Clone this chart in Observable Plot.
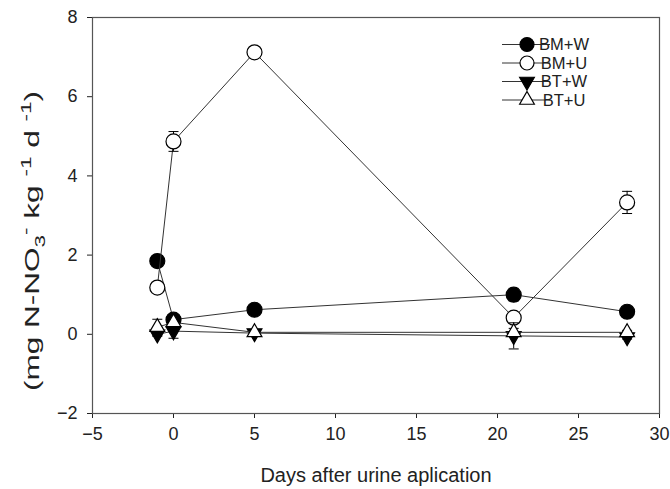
<!DOCTYPE html>
<html><head><meta charset="utf-8">
<script src="https://cdn.jsdelivr.net/npm/d3@7"></script>
<script src="https://cdn.jsdelivr.net/npm/@observablehq/plot@0.6"></script>
<style>body{margin:0;background:#fff}</style>
</head><body><div id="chart"></div>
<script>
const days = [-1, 0, 5, 21, 28];
const seriesNames = ["BM+W", "BM+U", "BT+W", "BT+U"];
const bmW = [1.85, 0.37, 0.62, 1.0, 0.57];
const bmU = [1.18, 4.87, 7.12, 0.42, 3.33];
const btW = [0.0, 0.08, 0.03, -0.04, -0.07];
const btU = [0.18, 0.3, 0.05, 0.05, 0.05];
const bmWErr = [0.05, 0.05, 0.05, 0.16, 0.05];
const bmUErr = [0.05, 0.25, 0.05, 0.1, 0.28];
const btWErr = [0.05, 0.18, 0.03, 0.33, 0.05];
const btUErr = [0.2, 0.05, 0.05, 0.1, 0.05];
const xTicks = [-5, 0, 5, 10, 15, 20, 25, 30];
const yTicks = [-2, 0, 2, 4, 6, 8];
const xLabel = "Days after urine aplication";

const triDown = {draw(context, size) {
  const y = -Math.sqrt(size / (3 * Math.sqrt(3)));
  context.moveTo(0, -y * 2);
  context.lineTo(-Math.sqrt(3) * y, y);
  context.lineTo(Math.sqrt(3) * y, y);
  context.closePath();
}};
const capSym = {draw(context, size) {
  context.moveTo(-5, 0); context.lineTo(5, 0);
}};

const values = [bmW, bmU, btW, btU];
const errs = [bmWErr, bmUErr, btWErr, btUErr];
const styles = [
  {symbol: "circle", fill: "black", r: 7.5},
  {symbol: "circle", fill: "white", r: 7.5},
  {symbol: triDown, fill: "black", r: 5.5},
  {symbol: "triangle", fill: "white", r: 5.5}
];
const d3types = [d3.symbolCircle, d3.symbolCircle, triDown, d3.symbolTriangle];

const marks = [];
seriesNames.forEach((name, i) => {
  const rows = days.map((d, j) => ({day: d, value: values[i][j], err: errs[i][j], series: name}));
  marks.push(Plot.line(rows, {x: "day", y: "value", stroke: "#333", strokeWidth: 1}));
  marks.push(Plot.ruleX(rows, {x: "day", y1: d => d.value - d.err, y2: d => d.value + d.err, stroke: "black", strokeWidth: 1}));
  marks.push(Plot.dot(rows, {x: "day", y: d => d.value + d.err, symbol: capSym, stroke: "black", strokeWidth: 1}));
  marks.push(Plot.dot(rows, {x: "day", y: d => d.value - d.err, symbol: capSym, stroke: "black", strokeWidth: 1}));
  marks.push(Plot.dot(rows, {x: "day", y: "value", symbol: styles[i].symbol, fill: styles[i].fill, stroke: "black", strokeWidth: 1.2, r: styles[i].r}));
});

const svg = Plot.plot({
  width: 670, height: 489,
  marginLeft: 92, marginRight: 11, marginTop: 17, marginBottom: 76,
  style: {fontFamily: "'Liberation Sans', Arial, sans-serif", fontSize: "18px", color: "#222", background: "white"},
  x: {domain: [-5, 30], ticks: xTicks, tickSize: 5, tickPadding: 9, label: null},
  y: {domain: [-2, 8], ticks: yTicks, tickSize: 5, tickPadding: 10, label: null},
  marks: [
    Plot.frame({stroke: "#555", strokeWidth: 1.2}),
    ...marks
  ]
});
document.getElementById("chart").appendChild(svg);

const s = d3.select(svg);
// x label
s.append("text").attr("x", 376).attr("y", 482).attr("text-anchor", "middle")
  .attr("font-size", 20).attr("fill", "#222").text(xLabel);
// y label
const yl = s.append("text").attr("transform", "translate(39,241) rotate(-90)")
  .attr("text-anchor", "middle").attr("font-size", 21).attr("fill", "#222")
  .attr("textLength", 300).attr("lengthAdjust", "spacingAndGlyphs");
yl.append("tspan").text("(mg N-NO");
yl.append("tspan").attr("dy", 6).attr("font-size", 15).text("3");
yl.append("tspan").attr("dy", -14).attr("font-size", 15).text("-");
yl.append("tspan").attr("dy", 8).text(" kg ");
yl.append("tspan").attr("dy", -8).attr("font-size", 15).text("-1");
yl.append("tspan").attr("dy", 8).text(" d ");
yl.append("tspan").attr("dy", -8).attr("font-size", 15).text("-1");
yl.append("tspan").attr("dy", 8).text(")");

// legend
const lg = s.append("g");
seriesNames.forEach((name, i) => {
  const y = 44.5 + i * 18.5;
  lg.append("line").attr("x1", 502).attr("x2", 550).attr("y1", y).attr("y2", y).attr("stroke", "#333");
  lg.append("path").attr("transform", `translate(527,${y})`)
    .attr("d", d3.symbol(d3types[i], Math.PI * (i < 2 ? 49 : 30))())
    .attr("fill", styles[i].fill).attr("stroke", "black").attr("stroke-width", 1.2);
  lg.append("text").attr("x", 564).attr("y", y).attr("dy", "0.36em").attr("font-size", 16.5).attr("fill", "#222").text(name);
});
</script></body></html>
